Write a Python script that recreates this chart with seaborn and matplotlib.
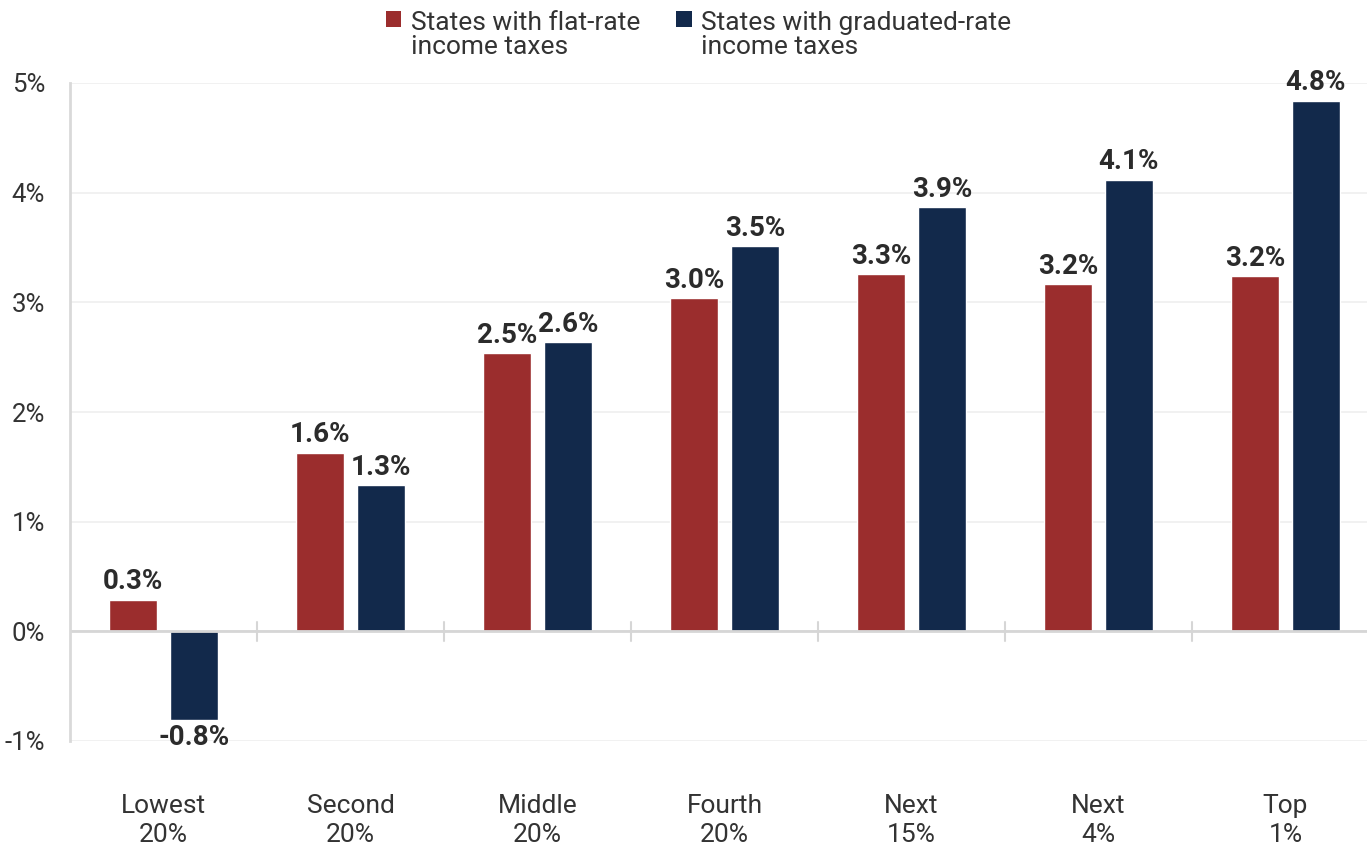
import matplotlib
matplotlib.use("Agg")
import matplotlib.pyplot as plt
import seaborn as sns
import pandas as pd
from matplotlib.patches import Patch, Rectangle
from matplotlib.legend_handler import HandlerPatch

categories = ["Lowest\n20%", "Second\n20%", "Middle\n20%", "Fourth\n20%",
              "Next\n15%", "Next\n4%", "Top\n1%"]
flat_rate = [0.29, 1.63, 2.54, 3.04, 3.26, 3.17, 3.24]
graduated_rate = [-0.81, 1.33, 2.64, 3.51, 3.87, 4.12, 4.84]
series_names = ["States with flat-rate\nincome taxes",
                "States with graduated-rate\nincome taxes"]
ytick_values = [-1, 0, 1, 2, 3, 4, 5]
colors = ["#9B2D2D", "#12294B"]

sns.set_theme(style="white")
plt.rcParams["font.family"] = ["Roboto", "DejaVu Sans"]

df = pd.DataFrame({
    "category": categories * 2,
    "value": flat_rate + graduated_rate,
    "series": [series_names[0]] * len(categories) + [series_names[1]] * len(categories),
})

fig = plt.figure(figsize=(13.67, 8.44), dpi=100)
ax = fig.add_axes([70 / 1367, 1 - 741 / 844, 1 - 70 / 1367, (741 - 83) / 844])

sns.barplot(data=df, x="category", y="value", hue="series", order=categories,
            hue_order=series_names, palette=colors, width=0.652, gap=0.21,
            saturation=1, legend=False, ax=ax, errorbar=None)

ax.set_ylim(-1, 5)
ax.set_xlim(-0.5, len(categories) - 0.5 - 12 / 187)
ax.set_yticks(ytick_values)
ax.set_yticklabels([f"{v}%" for v in ytick_values])
ax.grid(axis="y", color="#efefef", lw=1.2)
ax.set_axisbelow(True)
ax.set_xlabel("")
ax.set_ylabel("")

for s in ["top", "right", "bottom"]:
    ax.spines[s].set_visible(False)
ax.spines["left"].set_color("#d9d9d9")
ax.spines["left"].set_linewidth(2)

ax.axhline(0, color="#d6d6d6", lw=2, zorder=1)
zero_frac = (0 - ytick_values[0]) / (ytick_values[-1] - ytick_values[0])
for i in range(len(categories) - 1):
    ax.axvline(i + 0.5, ymin=zero_frac - 0.0144, ymax=zero_frac + 0.0144,
               color="#d6d6d6", lw=1.5, zorder=1)

ax.tick_params(axis="y", length=0, pad=18, labelsize=18.5, labelcolor="#333333")
ax.tick_params(axis="x", length=0, pad=38, labelsize=19, labelcolor="#333333")
for t in ax.get_xticklabels():
    t.set_linespacing(1.26)

for cont in ax.containers:
    vals = [b.get_height() for b in cont]
    ax.bar_label(cont, labels=[f"{v:.1f}%" for v in vals], padding=3,
                 fontsize=20, fontweight="bold", color="#2b2b2b")


class TopSquare(HandlerPatch):
    def create_artists(self, legend, orig_handle, xdescent, ydescent,
                       width, height, fontsize, trans):
        s = 0.6 * fontsize
        p = Rectangle((-xdescent + width - s, 12.5), s, s,
                      facecolor=orig_handle.get_facecolor(), edgecolor="none",
                      transform=trans)
        return [p]


handles = [Patch(facecolor=c, edgecolor="none") for c in colors]
leg = fig.legend(handles, series_names, loc="upper center", bbox_to_anchor=(0.511, 1.0),
                 ncol=2, frameon=False, fontsize=19, handlelength=0.6, handleheight=0.7,
                 handletextpad=0.36, columnspacing=1.35, labelcolor="#333333",
                 labelspacing=0.2, borderaxespad=0.0,
                 handler_map={Patch: TopSquare()})
for t in leg.get_texts():
    t.set_linespacing(1.0)

fig.savefig("out.png", dpi=100)
